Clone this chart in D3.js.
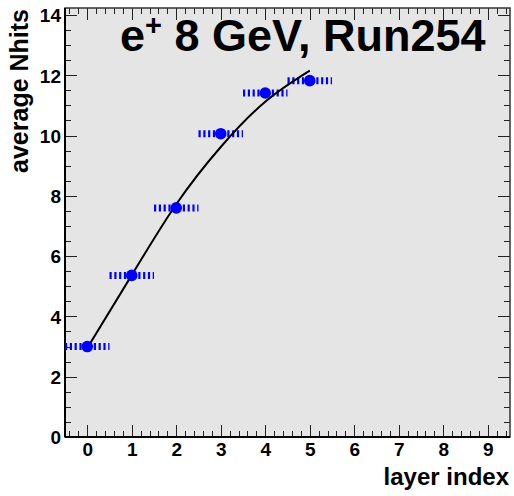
<!DOCTYPE html>
<html lang="en">
<head>
<meta charset="UTF-8">
<title>average Nhits vs layer index</title>
<script src="https://d3js.org/d3.v7.min.js"></script>
<style>
    body { margin: 0; background: #fff; }
    text { font-family: "Liberation Sans", Arial, sans-serif; font-weight: bold; }
    .axis path, .axis line { shape-rendering: crispEdges; }
</style>
</head>
<body>
<svg id="chart" width="514" height="496"></svg>
<script>
    // data
    const layers = [0, 1, 2, 3, 4, 5];
    const avgHits = [3.0, 5.36, 7.6, 10.06, 11.41, 11.82];
    const layerErr = [0.5, 0.5, 0.5, 0.5, 0.5, 0.5];
    // fit curve samples
    const fitX = [0, 1, 2, 3, 4, 5];
    const fitY = [2.95, 5.37, 7.72, 9.62, 11.12, 12.15];
    const xTickVals = [0, 1, 2, 3, 4, 5, 6, 7, 8, 9];
    const yTickVals = [0, 2, 4, 6, 8, 10, 12, 14];

    const W = 514, H = 496;
    const padL = 65, padR = 510, padT = 8, padB = 437;
    const svg = d3.select("#chart");

    const x = d3.scaleLinear().domain([-0.5, 9.5]).range([padL, padR]);
    const y = d3.scaleLinear().domain([0, 14.23]).range([padB, padT]);

    svg.append("rect").attr("width", W).attr("height", H).attr("fill", "#fff");
    svg.append("rect")
        .attr("x", padL).attr("y", padT)
        .attr("width", padR - padL).attr("height", padB - padT)
        .attr("fill", "#e5e5e5");

    const xMinor = d3.range(-0.4, 9.5, 0.2).map(v => +v.toFixed(1)).filter(v => !xTickVals.includes(v));
    const yMinor = d3.range(0.5, 14.2, 0.5).filter(v => !yTickVals.includes(v));

    function tickGroup(axis, tx, ty) {
        const g = svg.append("g").attr("class", "axis")
            .attr("transform", `translate(${tx},${ty})`)
            .call(axis);
        g.select(".domain").remove();
        g.selectAll("line").attr("stroke", "#222").attr("stroke-width", 1);
        return g;
    }

    // bottom axis, ticks pointing up
    const xb = tickGroup(d3.axisBottom(x).tickValues(xTickVals).tickSize(-12).tickPadding(6)
        .tickFormat(d3.format("d")), 0, padB);
    xb.selectAll("text").attr("font-size", 19).attr("fill", "#000");
    tickGroup(d3.axisBottom(x).tickValues(xMinor).tickSize(-6).tickFormat(""), 0, padB);
    // top, ticks pointing down
    tickGroup(d3.axisTop(x).tickValues(xTickVals).tickSize(-12).tickFormat(""), 0, padT);
    tickGroup(d3.axisTop(x).tickValues(xMinor).tickSize(-6).tickFormat(""), 0, padT);

    // left axis, ticks pointing right
    const yl = tickGroup(d3.axisLeft(y).tickValues(yTickVals).tickSize(-12).tickPadding(4)
        .tickFormat(d3.format("d")), padL, 0);
    yl.selectAll("text").attr("font-size", 19).attr("fill", "#000").attr("dy", "0.36em");
    tickGroup(d3.axisLeft(y).tickValues(yMinor).tickSize(-6).tickFormat(""), padL, 0);
    // right, ticks pointing left
    tickGroup(d3.axisRight(y).tickValues(yTickVals).tickSize(-12).tickFormat(""), padR, 0);
    tickGroup(d3.axisRight(y).tickValues(yMinor).tickSize(-6).tickFormat(""), padR, 0);

    // frame
    svg.append("rect")
        .attr("x", padL).attr("y", padT)
        .attr("width", padR - padL).attr("height", padB - padT)
        .attr("fill", "none").attr("stroke", "#333").attr("stroke-width", 1.5);
    svg.append("line").attr("x1", padL).attr("x2", padL).attr("y1", padT).attr("y2", padB)
        .attr("stroke", "#000").attr("stroke-width", 2);
    svg.append("line").attr("x1", padL).attr("x2", padR).attr("y1", padB).attr("y2", padB)
        .attr("stroke", "#000").attr("stroke-width", 2);

    const pts = layers.map((l, i) => ({ x: l, y: avgHits[i], ex: layerErr[i] }));

    // horizontal error bars
    svg.append("g").selectAll("line").data(pts).join("line")
        .attr("x1", d => x(d.x - d.ex)).attr("x2", d => x(d.x + d.ex))
        .attr("y1", d => y(d.y)).attr("y2", d => y(d.y))
        .attr("stroke", "#0000ff").attr("stroke-width", 7)
        .attr("stroke-dasharray", "2.2,2.6");

    // fit curve
    const fitLine = d3.line().x(d => x(d[0])).y(d => y(d[1])).curve(d3.curveNatural);
    svg.append("path")
        .datum(fitX.map((v, i) => [v, fitY[i]]))
        .attr("d", fitLine)
        .attr("fill", "none").attr("stroke", "#000").attr("stroke-width", 2);

    // markers
    svg.append("g").selectAll("circle").data(pts).join("circle")
        .attr("cx", d => x(d.x)).attr("cy", d => y(d.y)).attr("r", 5.8)
        .attr("fill", "#0000ff");

    // title
    const title = svg.append("text").attr("x", 120).attr("y", 51)
        .attr("font-size", 45).attr("fill", "#000");
    title.append("tspan").text("e");
    title.append("tspan").attr("font-size", 29).attr("dy", -16).text("+");
    title.append("tspan").attr("dy", 16).text(" 8 GeV, Run254");

    // axis titles
    svg.append("text").attr("x", 509).attr("y", 485)
        .attr("text-anchor", "end").attr("font-size", 24).text("layer index");
    svg.append("text")
        .attr("transform", "translate(28,9) rotate(-90)")
        .attr("text-anchor", "end").attr("font-size", 25).text("average Nhits");
</script>
</body>
</html>
